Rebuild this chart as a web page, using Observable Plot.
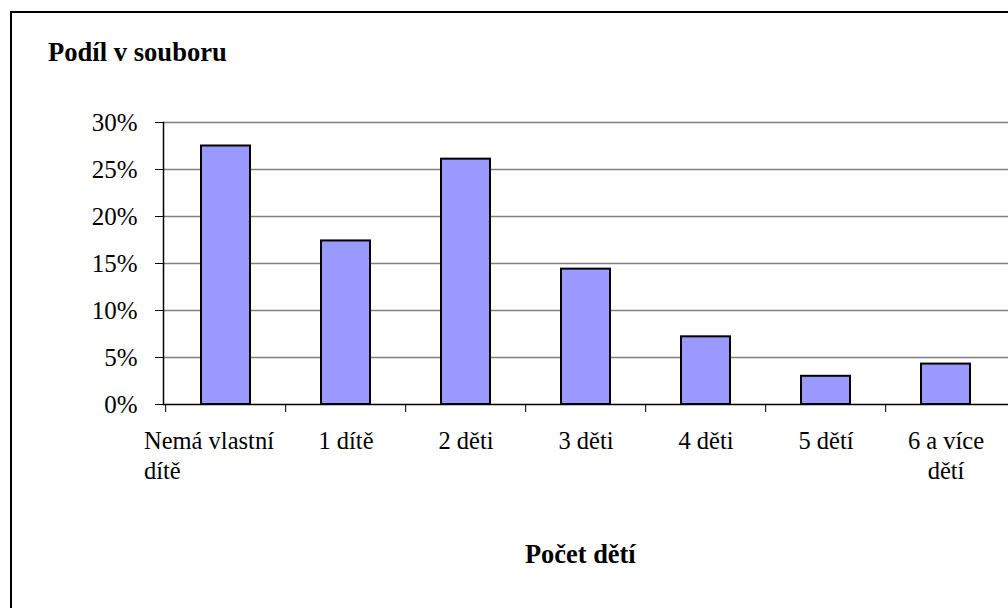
<!DOCTYPE html>
<html>
<head>
<meta charset="utf-8">
<script src="https://cdn.jsdelivr.net/npm/d3@7"></script>
<script src="https://cdn.jsdelivr.net/npm/@observablehq/plot@0.6"></script>
<style>
  html, body { margin: 0; padding: 0; background: #fff; overflow: hidden; }
  body { width: 1008px; height: 608px; position: relative; font-family: "Liberation Serif", "Times New Roman", serif; }
  #frame { position: absolute; left: 10px; top: 11px; width: 1100px; height: 700px; border-left: 2px solid #000; border-top: 2px solid #000; box-sizing: border-box; }
  #chart { position: absolute; left: 0; top: 0; }
  #title { position: absolute; left: 48px; top: 39px; font-size: 26.6px; line-height: 26px; font-weight: bold; color: #000; white-space: nowrap; }
  #xlabel { position: absolute; left: 525px; top: 541px; font-size: 26.4px; line-height: 26px; font-weight: bold; color: #000; white-space: nowrap; }
</style>
</head>
<body>
<div id="chart"></div>
<div id="frame"></div>
<div id="title">Podíl v souboru</div>
<div id="xlabel">Počet dětí</div>
<script>
// Data
const categories = ["Nemá vlastní dítě", "1 dítě", "2 děti", "3 děti", "4 děti", "5 dětí", "6 a více dětí"];
const labels = ["Nemá vlastní\ndítě", "1 dítě", "2 děti", "3 děti", "4 děti", "5 dětí", "6 a více\ndětí"];
const shares = [0.275, 0.174, 0.261, 0.144, 0.072, 0.030, 0.043];
const yTicks = [0, 0.05, 0.10, 0.15, 0.20, 0.25, 0.30];

const rows = categories.map((c, i) => ({category: c, label: labels[i], share: shares[i]}));

const W = 1008, H = 608;
const mL = 163, mR = 0, mT = 122, mB = 204;
const step = (W - mL - mR) / categories.length;
const font = '"Liberation Serif", "Times New Roman", serif';

const chart = Plot.plot({
  width: W,
  height: H,
  marginLeft: mL,
  marginRight: mR,
  marginTop: mT,
  marginBottom: mB,
  style: {fontFamily: font, fontSize: "24px", color: "#000", background: "transparent"},
  x: {type: "band", domain: categories, paddingInner: 0.59, paddingOuter: 0.295, axis: null},
  y: {domain: [0, 0.3], axis: null},
  marks: [
    Plot.gridY(yTicks.filter(d => d > 0), {stroke: "#808080", strokeOpacity: 1, strokeWidth: 1.5}),
    Plot.barY(rows, {x: "category", y: "share", fill: "#9999FF", stroke: "#000", strokeWidth: 2}),
    Plot.ruleY([0], {stroke: "#000", strokeWidth: 1.5}),
    Plot.frame({anchor: "left", stroke: "#000", strokeWidth: 1.5}),
    Plot.axisY({ticks: yTicks, tickSize: 8, tickPadding: 18, tickFormat: d => Math.round(d * 100) + "%", fontSize: 25, label: null, stroke: "#000"}),
    Plot.axisX({tickSize: 8, tickFormat: () => "", dx: -step / 2, label: null, stroke: "#000"}),
    Plot.text(rows.slice(0, 1), {x: "category", y: 0, text: "label", dy: 24, dx: -82, lineAnchor: "top", textAnchor: "start", fontSize: 24.5, lineHeight: 1.2, fill: "#000", letterSpacing: "0.8px"}),
    Plot.text(rows.slice(1), {x: "category", y: 0, text: "label", dy: 24, lineAnchor: "top", textAnchor: "middle", fontSize: 24.5, lineHeight: 1.2, fill: "#000", letterSpacing: "0.5px"})
  ]
});
document.getElementById("chart").appendChild(chart);
</script>
</body>
</html>
